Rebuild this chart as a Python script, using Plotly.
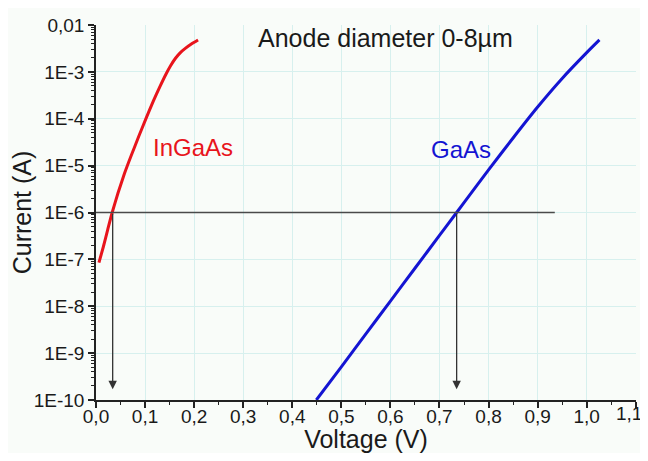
import plotly.graph_objects as go
import numpy as np

# InGaAs diode I-V (voltage V, current A)
ingaas_v = [0.006, 0.015, 0.024, 0.033, 0.045, 0.058, 0.072, 0.087, 0.102, 0.117, 0.130, 0.142,
            0.152, 0.162, 0.172, 0.182, 0.195, 0.208]
ingaas_i = [8.5e-8, 1.86e-7, 4.37e-7, 1.0e-6, 2.63e-6, 6.76e-6, 1.66e-5, 4.17e-5, 1.02e-4, 2.40e-4,
            4.79e-4, 8.71e-4, 1.35e-3, 1.95e-3, 2.57e-3, 3.16e-3, 3.98e-3, 4.79e-3]

# GaAs diode I-V
gaas_v = [0.449, 0.50, 0.55, 0.60, 0.65, 0.70, 0.735, 0.75, 0.80, 0.85, 0.90, 0.95, 1.00, 1.026]
gaas_i = [1.0e-10, 5.1e-10, 2.57e-9, 1.29e-8, 6.46e-8, 3.24e-7, 1.0e-6, 1.62e-6, 8.1e-6, 3.89e-5,
          1.78e-4, 7.24e-4, 2.57e-3, 4.8e-3]

# guide lines
ref_current = 1e-6
ref_line_end_v = 0.935
ref_voltages = [0.034, 0.735]
arrow_tip_current = 1.7e-10

x_tickvals = [0.0, 0.1, 0.2, 0.3, 0.4, 0.5, 0.6, 0.7, 0.8, 0.9, 1.0, 1.1]
x_ticktext = ["0,0", "0,1", "0,2", "0,3", "0,4", "0,5", "0,6", "0,7", "0,8", "0,9", "1,0", "1,1"]
y_tickvals = [1e-2, 1e-3, 1e-4, 1e-5, 1e-6, 1e-7, 1e-8, 1e-9, 1e-10]
y_ticktext = ["0,01", "1E-3", "1E-4", "1E-5", "1E-6", "1E-7", "1E-8", "1E-9", "1E-10"]
y_minor = [m * 10.0 ** e for e in range(-10, -2) for m in range(2, 10)]

FONT = "Liberation Sans, Arial, sans-serif"

fig = go.Figure()
fig.add_trace(go.Scatter(x=ingaas_v, y=ingaas_i, mode="lines",
                         line=dict(color="#e8141c", width=3, shape="spline", smoothing=0.5), name="InGaAs"))
fig.add_trace(go.Scatter(x=gaas_v, y=gaas_i, mode="lines",
                         line=dict(color="#1414d2", width=3, shape="spline", smoothing=0.8), name="GaAs"))

# horizontal reference line
fig.add_trace(go.Scatter(x=[0, ref_line_end_v], y=[ref_current, ref_current], mode="lines",
                         line=dict(color="#4a4a4a", width=1.3), hoverinfo="skip", showlegend=False))

for v in ref_voltages:
    fig.add_annotation(x=v, y=np.log10(arrow_tip_current), ax=v, ay=np.log10(ref_current),
                       xref="x", yref="y", axref="x", ayref="y", showarrow=True,
                       arrowhead=2, arrowsize=1.3, arrowwidth=1.3, arrowcolor="#333333", text="")

fig.add_annotation(x=0.112, y=-4.62, xref="x", yref="y", text="InGaAs", showarrow=False,
                   xanchor="left", font=dict(family=FONT, size=24, color="#e8141c"))
fig.add_annotation(x=0.678, y=-4.66, xref="x", yref="y", text="GaAs", showarrow=False,
                   xanchor="left", font=dict(family=FONT, size=24, color="#1414d2"))
fig.add_annotation(x=0.589, y=-2.27, xref="x", yref="y", text="Anode diameter 0-8µm", showarrow=False,
                   xanchor="center", font=dict(family=FONT, size=25, color="#1a1a1a"))

# last x tick label drawn right-anchored so it stays inside the page
fig.add_annotation(x=x_tickvals[-1], y=0, xref="x", yref="paper", text=x_ticktext[-1], showarrow=False,
                   xanchor="right", yanchor="middle", xshift=8, yshift=-13,
                   font=dict(family=FONT, size=19, color="#1a1a1a"))
x_ticktext_axis = x_ticktext[:-1] + [""]

# the page body has an 8px margin, so the figure is placed at (8, 8)
fig.update_layout(
    width=640, height=445,
    margin=dict(l=88, r=12, t=17, b=53, autoexpand=False),
    paper_bgcolor="#f9fcf9",
    plot_bgcolor="#f9fcf9",
    showlegend=False,
    font=dict(family=FONT, size=19, color="#1a1a1a"),
    xaxis=dict(
        range=[0, 1.1005], tickvals=x_tickvals, ticktext=x_ticktext_axis, automargin=False,
        ticklabelstandoff=-8,
        showline=True, linecolor="#222", linewidth=1.5,
        ticks="outside", ticklen=6, tickwidth=1.5, tickcolor="#222",
        minor=dict(ticks="outside", ticklen=3, tickwidth=1.2, tickcolor="#222", dtick=0.05, showgrid=False),
        showgrid=True, gridcolor="#d7f0ee", gridwidth=1, zeroline=False,
        tickfont=dict(size=19),
        title=dict(text="Voltage (V)", font=dict(size=25), standoff=15),
    ),
    yaxis=dict(
        type="log", range=[-10, -2], tickvals=y_tickvals, ticktext=y_ticktext, automargin=False,
        showline=True, linecolor="#222", linewidth=1.5,
        ticks="outside", ticklen=6, tickwidth=1.5, tickcolor="#222",
        minor=dict(tickmode="array", tickvals=y_minor, ticks="outside", ticklen=3, tickwidth=1,
                   tickcolor="#222", showgrid=False),
        showgrid=True, gridcolor="#d7f0ee", gridwidth=1, zeroline=False,
        tickfont=dict(size=19),
        title=dict(text="Current (A)", font=dict(size=25), standoff=2),
    ),
)

fig.write_html("out.html")
